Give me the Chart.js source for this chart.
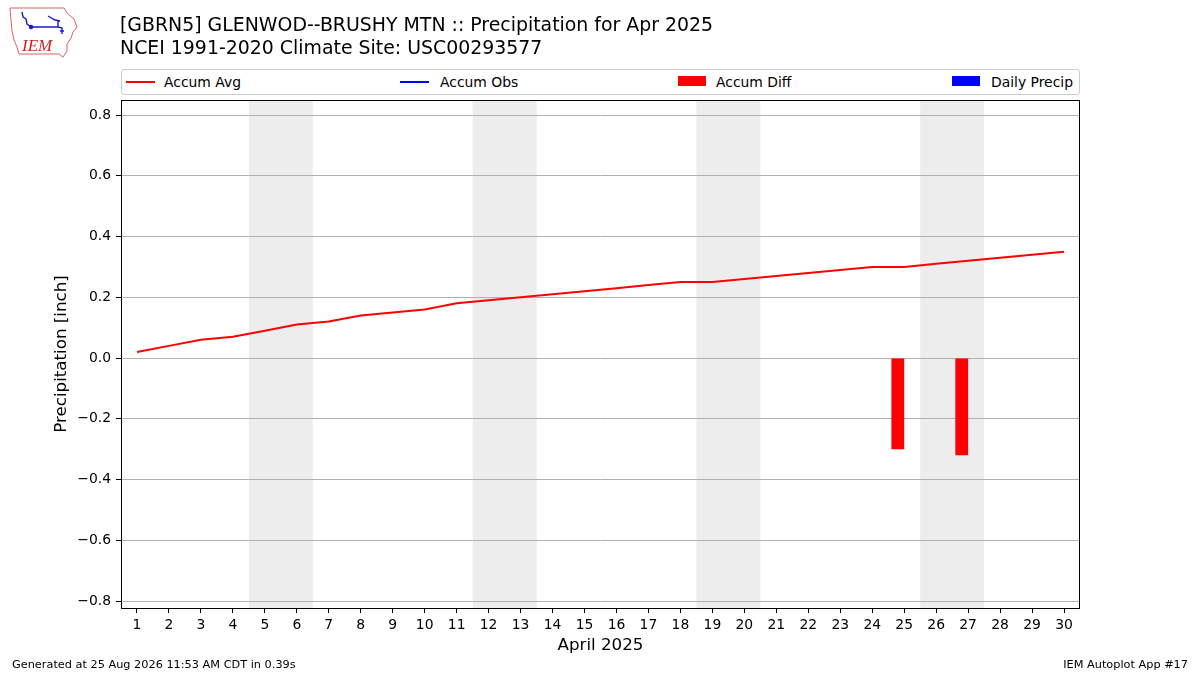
<!DOCTYPE html>
<html>
<head>
<meta charset="utf-8">
<script src="https://cdn.jsdelivr.net/npm/chart.js@4.4.1/dist/chart.umd.min.js"></script>
<style>
  html, body { margin:0; padding:0; background:#fff; }
  body { width:1200px; height:675px; position:relative; overflow:hidden; font-family:'DejaVu Sans', sans-serif; color:#000; }
  #wrap { position:absolute; left:0; top:0; width:1200px; height:675px; }
  .t { position:absolute; white-space:nowrap; }
  .title { left:120px; font-size:18.9px; line-height:23px; }
  #legend { position:absolute; left:121px; top:69px; width:959px; height:26px; box-sizing:border-box; border:1px solid #cccccc; border-radius:3px; background:#fff; }
  .lg { position:absolute; font-size:13.9px; line-height:16px; top:4px; white-space:nowrap; }
  .hl { position:absolute; height:2px; top:11px; width:29px; }
  .hr { position:absolute; height:10px; top:6px; width:28px; }
  .foot { font-size:11.3px; line-height:13px; top:658px; }
</style>
</head>
<body>
<div id="wrap"><canvas id="c" width="1200" height="675"></canvas></div>

<svg class="t" style="left:0;top:0" width="90" height="62" viewBox="0 0 90 62">
  <path d="M10,8 L64,8 L67,13 L74,19 L77,27 L73,32 L71,38 L67,44 L67,51 L63,57 L59,54 L19,54 L17,47 L14,40 L12,31 L11,20 Z" fill="#fff" stroke="#e06060" stroke-width="1"/>
  <path d="M22,12 L23,17 L26,19 L27,24 L31,27 M31,27 L58,27 M48,16 L55,20 L60,21 M58,21 L58,27 M58,27 L62,28 L62,34 M60,31 L64,31" fill="none" stroke="#1a1acc" stroke-width="1.4"/>
  <circle cx="31" cy="27" r="2.2" fill="#1a1acc"/>
  <text x="22" y="51" font-family="Liberation Serif, DejaVu Serif, serif" font-style="italic" font-size="17" fill="#d42020">IEM</text>
</svg>

<div class="t title" style="top:13px">[GBRN5] GLENWOD--BRUSHY MTN :: Precipitation for Apr 2025</div>
<div class="t title" style="top:36px">NCEI 1991-2020 Climate Site: USC00293577</div>

<div id="legend">
  <div class="hl" style="left:4px;background:#ff0000"></div>
  <div class="lg" style="left:42px">Accum Avg</div>
  <div class="hl" style="left:278px;background:#0000ff"></div>
  <div class="lg" style="left:318px">Accum Obs</div>
  <div class="hr" style="left:556px;background:#ff0000"></div>
  <div class="lg" style="left:594px">Accum Diff</div>
  <div class="hr" style="left:830px;background:#0000ff"></div>
  <div class="lg" style="left:869px">Daily Precip</div>
</div>

<div class="t foot" style="left:12px">Generated at 25 Aug 2026 11:53 AM CDT in 0.39s</div>
<div class="t foot" style="right:12px">IEM Autoplot App #17</div>

<script>
// ---- data ----
const days = [1,2,3,4,5,6,7,8,9,10,11,12,13,14,15,16,17,18,19,20,21,22,23,24,25,26,27,28,29,30];
const accumAvg = [0.02,0.04,0.06,0.07,0.09,0.11,0.12,0.14,0.15,0.16,0.18,0.19,0.20,0.21,0.22,0.23,0.24,0.25,0.25,0.26,0.27,0.28,0.29,0.30,0.30,0.31,0.32,0.33,0.34,0.35];
const accumObs = [null,null,null,null,null,null,null,null,null,null,null,null,null,null,null,null,null,null,null,null,null,null,null,null,0,null,0,null,null,null];
const dailyPrecip = [null,null,null,null,null,null,null,null,null,null,null,null,null,null,null,null,null,null,null,null,null,null,null,null,0,null,0,null,null,null];
const accumDiff = [null,null,null,null,null,null,null,null,null,null,null,null,null,null,null,null,null,null,null,null,null,null,null,null,-0.30,null,-0.32,null,null,null];
const weekendStarts = [5,12,19,26]; // Saturdays of April 2025 (Sat+Sun shaded)
const yTicks = [-0.8,-0.6,-0.4,-0.2,0.0,0.2,0.4,0.6,0.8];
const xLabel = 'April 2025';
const yLabel = 'Precipitation [inch]';

// ---- styles ----
const BAR_W = 0.4;           // bar width in days, drawn on the left side of the day
const FONT = "'DejaVu Sans', sans-serif";
Chart.defaults.font.family = FONT;
Chart.defaults.color = '#000';

const toXY = (arr, shift) => days.map((d, i) => ({x: d + shift, y: arr[i]}));

const shadePlugin = {
  id: 'shade',
  beforeDraw(chart) {
    const {ctx, chartArea: a, scales: {x}} = chart;
    ctx.save();
    ctx.fillStyle = '#ededed';
    weekendStarts.forEach(s => {
      const x0 = x.getPixelForValue(s - 0.5), x1 = x.getPixelForValue(s + 1.5);
      ctx.fillRect(x0, a.top, x1 - x0, a.bottom - a.top);
    });
    ctx.restore();
  },
  afterDatasetsDraw(chart) {
    const {ctx, chartArea: a} = chart;
    ctx.save();
    ctx.strokeStyle = '#000';
    ctx.lineWidth = 1;
    ctx.strokeRect(Math.round(a.left) + 0.5, Math.round(a.top) + 0.5, Math.round(a.right - a.left) - 1, Math.round(a.bottom - a.top));
    ctx.restore();
  }
};

new Chart(document.getElementById('c'), {
  type: 'bar',
  data: {
    datasets: [
      { type:'line', label:'Accum Avg', data: toXY(accumAvg, 0), borderColor:'#ff0000', backgroundColor:'#ff0000', borderWidth:2, pointRadius:0, tension:0, order:1 },
      { type:'line', label:'Accum Obs', data: toXY(accumObs, 0), borderColor:'#0000ff', backgroundColor:'#0000ff', borderWidth:2, pointRadius:0, spanGaps:false, order:1 },
      { type:'bar', label:'Accum Diff', data: toXY(accumDiff, -BAR_W/2), backgroundColor:'#ff0000', borderWidth:0, grouped:false, barPercentage:BAR_W, categoryPercentage:1.0, order:2 },
      { type:'bar', label:'Daily Precip', data: toXY(dailyPrecip, -BAR_W/2), backgroundColor:'#0000ff', borderWidth:0, grouped:false, barPercentage:BAR_W, categoryPercentage:1.0, order:2 }
    ]
  },
  options: {
    responsive:false,
    animation:false,
    devicePixelRatio:1,
    layout: { padding: { left:0, top:100, right:120, bottom:0 } },
    plugins: { legend:{display:false}, title:{display:false}, tooltip:{enabled:false} },
    scales: {
      x: {
        type:'linear', min:0.5, max:30.5, offset:false,
        afterBuildTicks(s){ s.ticks = days.map(v => ({value:v})); },
        afterFit(s){ s.height = 67; },
        ticks:{ font:{size:13.9}, padding:4, maxRotation:0, autoSkip:false, callback:v => String(v) },
        grid:{ offset:false, drawOnChartArea:false, tickColor:'#000', tickLength:5, lineWidth:1 },
        border:{ display:false },
        title:{ display:true, text:xLabel, font:{size:16.7}, padding:{top:0, bottom:19} }
      },
      y: {
        type:'linear', min:-0.823, max:0.8494,
        afterBuildTicks(s){ s.ticks = yTicks.map(v => ({value:v})); },
        afterFit(s){ s.width = 121; },
        ticks:{ font:{size:13.9}, padding:5, callback:v => (v < 0 ? '\u2212' : '') + Math.abs(v).toFixed(1) },
        grid:{ color:'#b0b0b0', tickColor:'#000', tickLength:5, lineWidth:1 },
        border:{ display:false },
        title:{ display:true, text:yLabel, font:{size:16.7}, padding:{top:52, bottom:0} }
      }
    }
  },
  plugins:[shadePlugin]
});
</script>
</body>
</html>
